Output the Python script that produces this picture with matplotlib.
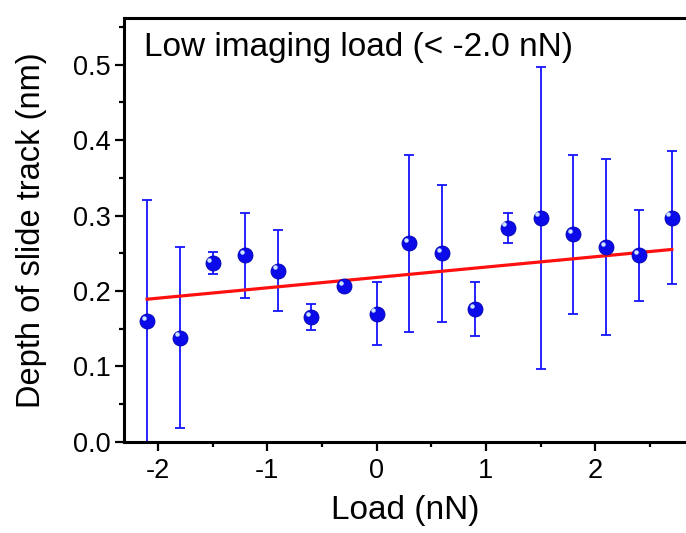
import numpy as np
import matplotlib
matplotlib.use("Agg")
import matplotlib.pyplot as plt
import matplotlib.transforms as mtransforms

plt.rcParams['font.family'] = ['Liberation Sans', 'DejaVu Sans']

# data
load = [-2.1, -1.8, -1.5, -1.2, -0.9, -0.6, -0.3, 0.0, 0.3, 0.6, 0.9, 1.2, 1.5, 1.8, 2.1, 2.4, 2.7]
depth = [0.160, 0.138, 0.237, 0.247, 0.227, 0.165, 0.206, 0.170, 0.263,
         0.250, 0.176, 0.284, 0.297, 0.275, 0.258, 0.247, 0.297]
depth_err = [0.160, 0.120, 0.015, 0.057, 0.054, 0.017, 0.005, 0.042, 0.117,
             0.091, 0.036, 0.020, 0.200, 0.105, 0.117, 0.061, 0.088]
fit_x = [-2.1, 2.7]
fit_y = [0.189, 0.255]

fig = plt.figure(figsize=(6.86, 5.33), dpi=100)
ax = fig.add_axes([0.181, 0.1713, 0.819, 0.7949])

# error bars
ax.errorbar(load, depth, yerr=depth_err, fmt='none', ecolor='#1414ff',
            elinewidth=1.3, capsize=3.6, capthick=1.3, zorder=2)

# fit line
ax.plot(fit_x, fit_y, color='#ff1010', lw=2.3, zorder=3)

# sphere-like markers: blue ball + small highlight
ax.plot(load, depth, 'o', ms=10.8, mfc='#0b0bea', mec='#0000b0', mew=0.6, zorder=4)
hl = mtransforms.offset_copy(ax.transData, fig=fig, x=-2.4, y=2.4, units='points')
ax.plot(load, depth, 'o', ms=3.2, mfc='#cfe6ff', mec='none', transform=hl, zorder=5)

ax.set_xlim(-2.31, 2.83)
ax.set_ylim(0, 0.562)
ax.set_xticks([-2, -1, 0, 1, 2])
ax.set_xticklabels(['-2', '-1', '0', '1', '2'])
ax.set_xticks(np.arange(-2.0, 3.0, 0.5), minor=True)
ax.set_yticks([0.0, 0.1, 0.2, 0.3, 0.4, 0.5])
ax.set_yticks(np.arange(0.05, 0.56, 0.05), minor=True)
ax.yaxis.set_major_formatter(matplotlib.ticker.FormatStrFormatter('%.1f'))

ax.tick_params(which='major', direction='out', length=6.5, width=1.6,
               labelsize=19.5)
ax.tick_params(axis='x', which='major', pad=5.3)
ax.tick_params(axis='y', which='major', pad=3)
ax.tick_params(which='minor', direction='out', length=3.5, width=1.6)
ax.tick_params(top=False, right=False)

for side in ['left', 'bottom', 'top']:
    ax.spines[side].set_linewidth(2.2)
ax.spines['right'].set_visible(False)

ax.set_xlabel('Load (nN)', fontsize=24, labelpad=8)
ax.set_ylabel('Depth of slide track (nm)', fontsize=23.5, labelpad=19)

ax.text(0.036, 0.910, 'Low imaging load (< -2.0 nN)', transform=ax.transAxes,
        fontsize=24, va='baseline', ha='left')

fig.savefig('out.png', dpi=100)
